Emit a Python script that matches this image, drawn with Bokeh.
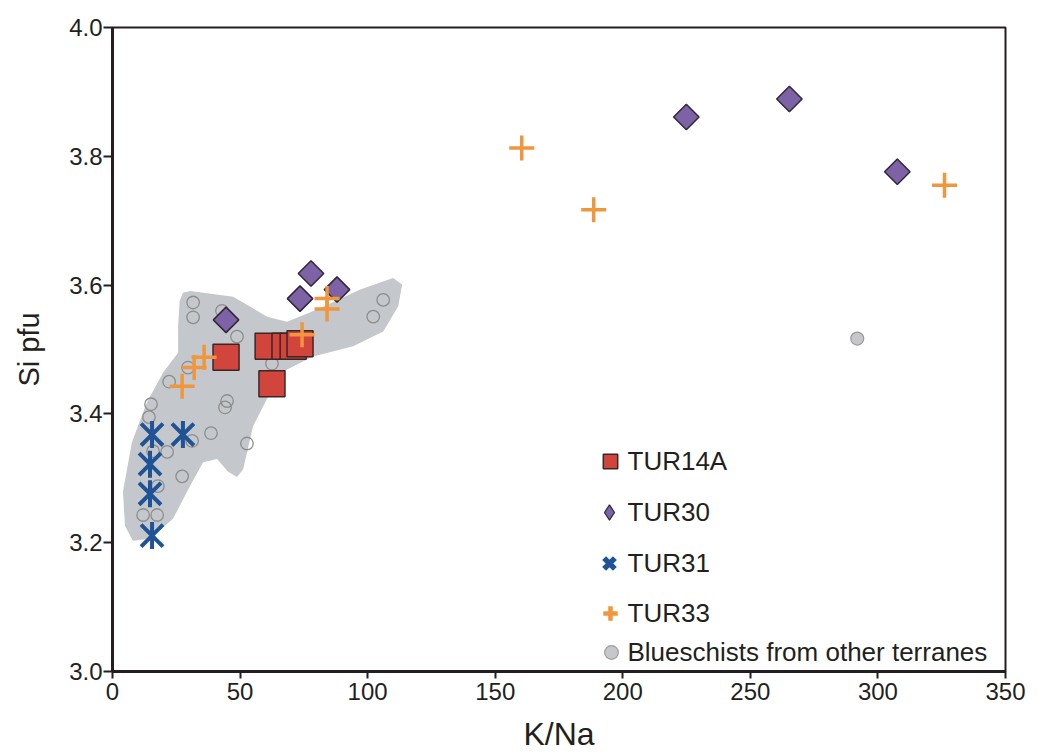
import math
from bokeh.plotting import figure
from bokeh.models import Range1d, FixedTicker, PrintfTickFormatter, Legend, LegendItem
from bokeh.embed import file_html
from bokeh.resources import INLINE

# ---------------- data ----------------
tur14a_x = [44.5, 61.0, 67.6, 70.8, 73.5, 62.5]
tur14a_y = [3.488, 3.505, 3.505, 3.505, 3.509, 3.447]

tur30_x = [44.5, 73.5, 77.8, 88.0, 224.9, 265.3, 307.6]
tur30_y = [3.546, 3.579, 3.618, 3.593, 3.861, 3.889, 3.776]

tur31_x = [15.5, 27.6, 14.7, 14.7, 15.5]
tur31_y = [3.368, 3.368, 3.322, 3.276, 3.211]

tur33_x = [27.3, 32.0, 35.9, 74.3, 84.1, 84.1, 160.4, 188.6, 326.1]
tur33_y = [3.443, 3.472, 3.488, 3.523, 3.563, 3.579, 3.813, 3.717, 3.755]

blue_x = [291.9]
blue_y = [3.517]

field_x = [31.6, 31.6, 42.9, 48.8, 62.5, 106.1, 102.2, 22.2, 29.6, 15.1, 14.3,
           44.9, 44.1, 38.6, 52.7, 31.2, 21.4, 15.9, 27.3, 17.8, 12.0, 17.5]
field_y = [3.573, 3.550, 3.560, 3.520, 3.478, 3.577, 3.551, 3.450, 3.472, 3.415, 3.395,
           3.420, 3.410, 3.370, 3.354, 3.358, 3.341, 3.342, 3.303, 3.288, 3.243, 3.243]

blob_x = [30.5, 47.3, 60.6, 68.4, 80.2, 97.1, 110.0, 113.5, 112.0, 106.1, 94.3, 78.6,
          68.4, 61.8, 55.1, 51.2, 48.8, 45.3, 41.0, 35.5, 30.4, 23.7, 14.7, 8.0, 4.9,
          4.1, 7.6, 13.5, 19.8, 25.7, 25.7, 26.3, 27.6]
blob_y = [3.591, 3.582, 3.551, 3.543, 3.562, 3.593, 3.611, 3.601, 3.567, 3.528, 3.505, 3.489,
          3.469, 3.433, 3.381, 3.314, 3.302, 3.310, 3.330, 3.325, 3.288, 3.237, 3.206, 3.203, 3.226,
          3.279, 3.356, 3.418, 3.464, 3.495, 3.536, 3.575, 3.588]

x_ticks = [0, 50, 100, 150, 200, 250, 300, 350]
y_ticks = [3.0, 3.2, 3.4, 3.6, 3.8, 4.0]

labels = ["TUR14A", "TUR30", "TUR31", "TUR33", "Blueschists from other terranes"]

# ---------------- colours ----------------
INK = "#231f20"
RED = "#d1453d"
PURPLE = "#7d62a6"
BLUE = "#1f5395"
ORANGE = "#f0963d"
BLOB = "#c4c7cb"
FONT = "Liberation Sans"

p = figure(width=1038, height=754, x_range=Range1d(0, 350), y_range=Range1d(3.0, 4.0),
           output_backend="svg", toolbar_location=None,
           min_border_left=112, min_border_right=33, min_border_top=27, min_border_bottom=81)
p.background_fill_color = "white"
p.border_fill_color = "white"
p.outline_line_color = INK
p.outline_line_width = 2
p.grid.visible = False
# a range that keeps legend-swatch renderers out of view
p.extra_x_ranges = {"swatch": Range1d(10000, 10001)}

for ax in (p.xaxis, p.yaxis):
    ax.axis_line_color = INK
    ax.axis_line_width = 3
    ax.major_tick_line_color = INK
    ax.major_tick_line_width = 2
    ax.major_tick_in = 0
    ax.minor_tick_line_color = None
    ax.major_label_text_font = FONT
    ax.major_label_text_font_size = "24px"
    ax.major_label_text_color = INK
    ax.axis_label_text_font = FONT
    ax.axis_label_text_font_style = "normal"
    ax.axis_label_text_color = INK

p.xaxis.ticker = FixedTicker(ticks=x_ticks)
p.yaxis.ticker = FixedTicker(ticks=y_ticks)
p.yaxis.formatter = PrintfTickFormatter(format="%.1f")
p.xaxis.major_tick_out = 7
p.yaxis.major_tick_out = 9
p.xaxis.major_label_standoff = 4
p.yaxis.major_label_standoff = 1
p.xaxis.axis_label = "K/Na"
p.yaxis.axis_label = "Si pfu"
p.xaxis.axis_label_text_font_size = "32px"
p.yaxis.axis_label_text_font_size = "29px"
p.xaxis.axis_label_standoff = 13
p.yaxis.axis_label_standoff = 21

# field of other blueschists
p.patch(blob_x, blob_y, fill_color=BLOB, line_color=None)
p.scatter(field_x, field_y, marker="circle", size=12.5, fill_color=None,
          line_color="#8d8d8d", line_width=1.3)

r14 = p.scatter(tur14a_x, tur14a_y, marker="square", size=26, fill_color=RED,
                line_color="#3b2626", line_width=1.5)
r30 = p.scatter(tur30_x, tur30_y, marker="square", angle=math.pi / 4, size=18,
                fill_color=PURPLE, line_color="#2e2838", line_width=1.5)
r33 = p.scatter(tur33_x, tur33_y, marker="cross", size=25, line_color=ORANGE, line_width=3.5)
r31a = p.scatter(tur31_x, tur31_y, marker="x", size=31, line_color=BLUE, line_width=4)
r31b = p.scatter(tur31_x, tur31_y, marker="dash", angle=math.pi / 2, size=27,
                 line_color=BLUE, line_width=4)
rb = p.scatter(blue_x, blue_y, marker="circle", size=13, fill_color="#c6c7cb",
               line_color="#9a9a9a", line_width=1.2)

# legend swatches: same series, mapped through an out-of-view range
l30 = p.scatter(tur30_x, tur30_y, marker="diamond", fill_color=PURPLE,
                line_color="#2e2838", line_width=1.2, x_range_name="swatch")
l31 = p.scatter(tur31_x, tur31_y, marker="x", line_color=BLUE, line_width=5.5,
                x_range_name="swatch")
l33 = p.scatter(tur33_x, tur33_y, marker="cross", line_color=ORANGE, line_width=4.5,
                x_range_name="swatch")

FRAME_LEFT = 112.5
FRAME_BOTTOM = 673
TXT = 628
ROW = 44

def add_leg(label, rends, w, cy):
    leg = Legend(items=[LegendItem(label=label, renderers=rends)],
                 location=(TXT - w - FRAME_LEFT, FRAME_BOTTOM - cy - ROW / 2),
                 glyph_width=int(round(w)), glyph_height=ROW, label_height=ROW,
                 label_standoff=0,
                 padding=0, margin=0, spacing=0,
                 border_line_color=None, background_fill_alpha=0,
                 label_text_font=FONT, label_text_font_size="26px",
                 label_text_color=INK)
    p.add_layout(leg, "center")

add_leg(labels[0], [r14], 36, 463)
add_leg(labels[1], [l30], 38, 514)
add_leg(labels[2], [l31], 38, 565)
add_leg(labels[3], [l33], 36, 615)
add_leg(labels[4], [rb], 34, 654)

open("out.html", "w").write(file_html(p, INLINE))
